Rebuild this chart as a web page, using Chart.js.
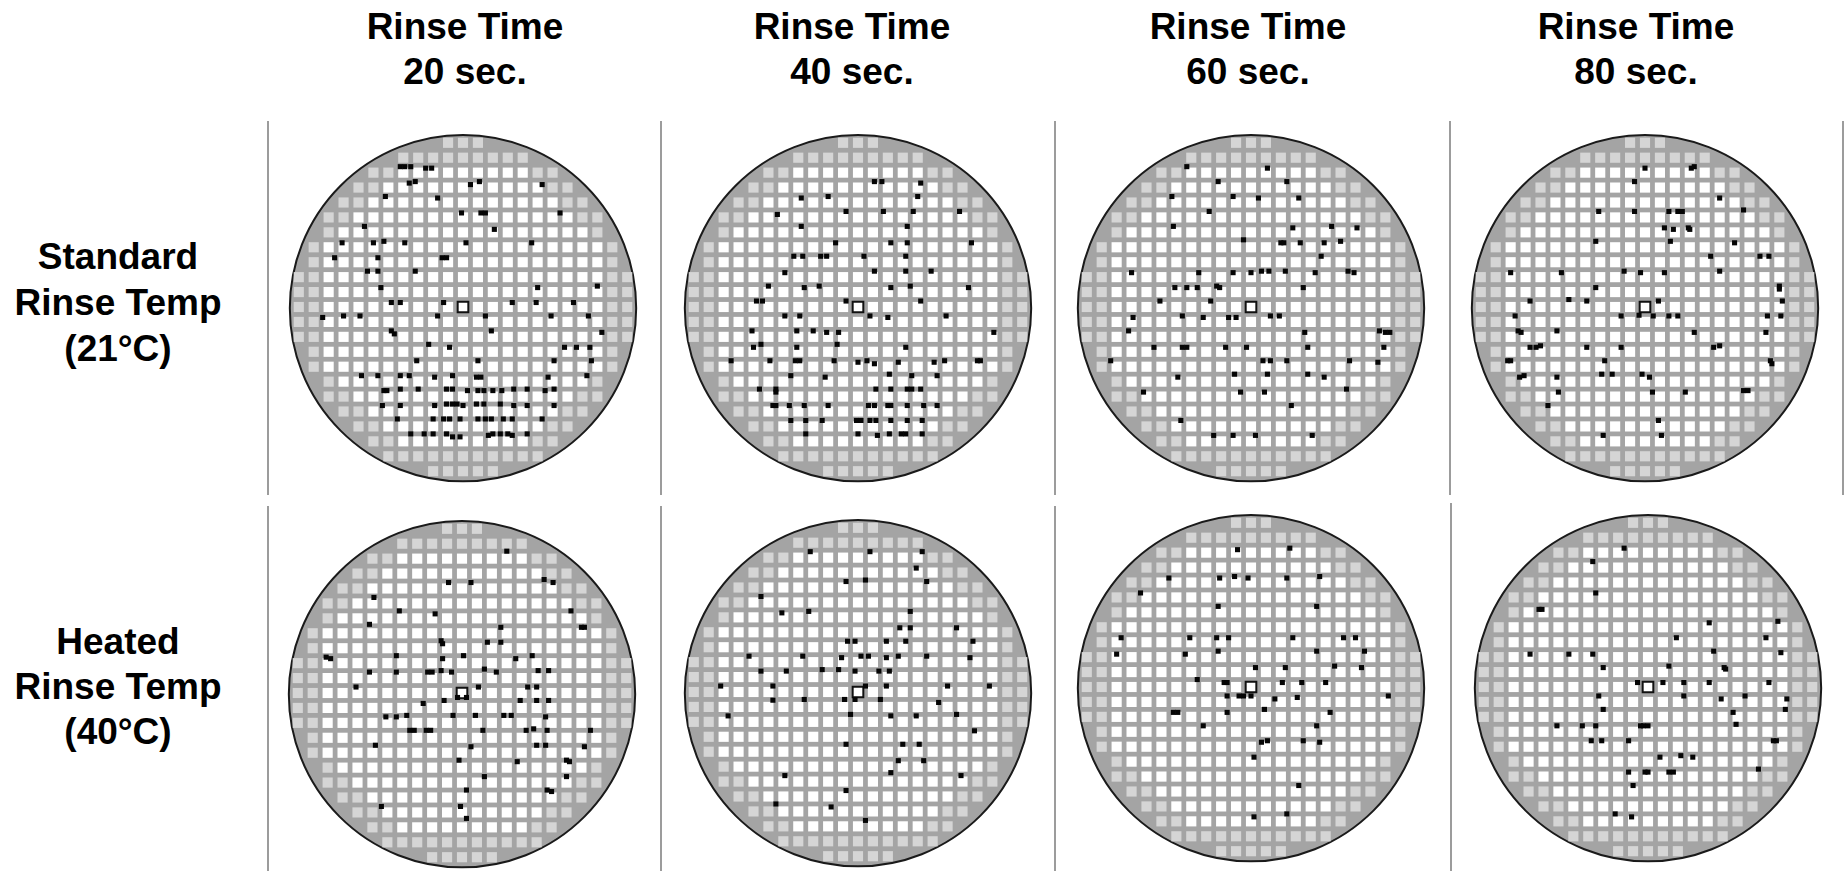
<!DOCTYPE html>
<html>
<head>
<meta charset="utf-8">
<script src="https://cdn.jsdelivr.net/npm/chart.js@4.4.1/dist/chart.umd.min.js"></script>
<style>
  html, body { margin: 0; padding: 0; background: #fff; width: 1845px; height: 871px; overflow: hidden; }
  .lbl { position: absolute; width: 320px; font-family: "Liberation Sans", Arial, sans-serif; font-weight: bold;
         font-size: 37px; color: #000; text-align: center; white-space: nowrap; }
  .sep { position: absolute; width: 2px; background: #9c9c9c; }
  .wafer { position: absolute; width: 380px; height: 380px; }
</style>
</head>
<body>
<script>
// column headers / row labels
var rinseTimes = ['20 sec.', '40 sec.', '60 sec.', '80 sec.'];
var rinseTemps = [['Standard', 'Rinse Temp', '(21°C)'], ['Heated', 'Rinse Temp', '(40°C)']];

// die map, one entry per die row (top to bottom):
// fullHalf = last column (+/-) holding a complete die, edgeHalf = last column holding an edge die
var dieRows  = [-11,-10,-9,-8,-7,-6,-5,-4,-3,-2,-1,0,1,2,3,4,5,6,7,8,9,10,11];
var fullHalf = [-1,-1,4,5,6,7,8,9,9,9,9,9,9,9,9,9,8,7,6,5,4,-1,-1];
var edgeHalf = [1,4,6,7,8,9,9,10,10,11,11,11,11,11,10,10,9,9,8,7,6,5,2];

// defect positions, in die pitches from the centre die (x to the right, y downwards)
var std20 = [[-4.2,-9.4],[-3.9,-9.4],[-3.5,-9.4],[-2.5,-9.3],[-2.1,-9.3],[-3.6,-8.3],[-3.2,-8.4],[-5.2,-7.4],[-1.7,-7.3],[0.5,-8.2],[1.1,-8.4],[5.3,-8.2],
  [-0.1,-6.3],[1.2,-6.3],[1.5,-6.3],[6.5,-6.3],[-6.6,-5.4],[2.1,-5.2],[-8.1,-4.3],[-6.0,-4.3],[-5.3,-4.4],[-3.9,-4.3],[0.2,-4.3],[4.6,-4.3],
  [-8.6,-3.3],[-5.7,-3.3],[-1.4,-3.3],[-1.1,-3.3],[-6.4,-2.4],[-5.7,-2.4],[-3.2,-2.4],[-5.5,-1.3],[5.0,-1.3],[9.0,-1.4],[-4.8,-0.3],[-4.2,-0.3],
  [-1.3,-0.3],[3.3,-0.3],[4.9,-0.3],[7.4,-0.3],[-9.4,0.7],[-8.0,0.6],[-6.9,0.6],[-1.7,0.6],[1.5,0.6],[5.9,0.6],[8.4,0.6],[-4.8,1.6],[-4.6,1.8],
  [1.9,1.6],[9.3,1.7],[-2.3,2.5],[-0.9,2.7],[6.8,2.7],[7.6,2.7],[8.5,2.7],[-3.1,3.6],[1.0,3.6],[6.1,3.6],[8.6,3.6],[-6.8,4.6],[-5.7,4.6],
  [-4.2,4.6],[-3.6,4.6],[-1.9,4.7],[-0.7,4.6],[0.9,4.7],[1.2,4.7],[5.7,4.7],[8.3,4.6],[-5.3,5.6],[-5.1,5.6],[-4.2,5.5],[-3.0,5.5],[-1.1,5.5],
  [-0.7,5.5],[0.3,5.6],[1.0,5.6],[1.4,5.6],[2.0,5.6],[2.6,5.6],[3.4,5.5],[4.3,5.5],[5.5,5.6],[6.1,5.5],[-5.4,6.6],[-4.2,6.6],[-1.9,6.6],
  [-1.1,6.5],[-0.7,6.5],[-0.4,6.5],[0.0,6.6],[0.9,6.5],[1.4,6.5],[2.5,6.5],[3.4,6.6],[4.3,6.6],[6.1,6.6],[-4.4,7.5],[-2.0,7.5],[-1.3,7.5],
  [-0.9,7.5],[-0.2,7.5],[1.0,7.5],[1.5,7.5],[1.9,7.5],[2.7,7.5],[3.3,7.5],[5.3,7.5],[-3.5,8.5],[-2.6,8.5],[-2.0,8.5],[-1.1,8.5],[-0.7,8.7],
  [-0.2,8.7],[1.7,8.6],[2.0,8.5],[2.5,8.5],[3.0,8.5],[3.3,8.6],[4.3,8.5]];
var std40 = [[1.1,-8.4],[1.6,-8.4],[4.2,-8.3],[4.0,-7.4],[-3.8,-7.3],[-2.0,-7.4],[-5.4,-6.2],[-0.8,-6.4],[1.7,-6.4],[3.7,-6.4],[6.8,-6.4],
  [-3.8,-5.4],[3.3,-5.4],[-1.5,-4.3],[2.2,-4.3],[3.3,-4.3],[7.6,-4.3],[-4.3,-3.4],[-3.7,-3.4],[-2.5,-3.4],[-2.1,-3.4],[0.4,-3.4],[3.2,-3.4],
  [-4.9,-2.3],[1.1,-2.4],[3.2,-2.4],[4.9,-2.4],[-6.0,-1.4],[-3.6,-1.3],[-2.6,-1.4],[2.2,-1.3],[3.5,-1.4],[7.4,-1.3],[-6.8,-0.4],[-6.4,-0.4],
  [-0.8,-0.4],[4.2,-0.4],[-4.9,0.6],[-3.9,0.6],[0.8,0.6],[2.0,0.7],[5.9,0.6],[-7.1,1.6],[-4.1,1.6],[-3.0,1.6],[-2.1,1.7],[-1.3,1.7],[9.1,1.7],
  [-7.0,2.7],[-6.5,2.5],[-4.1,2.7],[-1.4,2.5],[3.2,2.7],[-8.5,3.6],[-5.9,3.6],[-4.2,3.6],[-3.9,3.6],[-1.6,3.6],[0.0,3.7],[0.6,3.6],[1.1,3.8],
  [2.7,3.7],[5.1,3.7],[5.8,3.6],[8.0,3.6],[8.2,3.6],[-4.5,4.6],[-2.2,4.7],[2.1,4.5],[3.6,4.6],[5.3,4.6],[-6.6,5.5],[-5.5,5.5],[-5.5,5.7],
  [1.2,5.5],[2.2,5.5],[3.3,5.5],[3.6,5.5],[4.2,5.5],[-5.7,6.6],[-5.5,6.6],[-4.6,6.6],[-3.6,6.6],[-2.0,6.6],[0.7,6.6],[1.1,6.6],[2.0,6.6],
  [2.2,6.6],[3.3,6.6],[4.4,6.6],[5.3,6.6],[-4.5,7.6],[-3.5,7.6],[-2.4,7.6],[-0.1,7.6],[0.2,7.6],[0.8,7.6],[1.2,7.6],[2.2,7.6],[3.3,7.6],
  [4.3,7.6],[-3.5,8.5],[0.0,8.5],[1.3,8.6],[2.1,8.5],[2.9,8.5],[3.2,8.5],[4.3,8.5]];
var std60 = [[-4.3,-9.4],[1.1,-9.3],[-2.2,-8.4],[2.4,-8.4],[-5.3,-7.4],[-1.2,-7.4],[0.5,-7.3],[3.2,-7.3],[-2.8,-6.4],[-5.2,-5.4],[2.8,-5.3],
  [5.4,-5.4],[7.1,-5.3],[-0.5,-4.5],[2.0,-4.3],[2.2,-4.3],[3.3,-4.3],[4.9,-4.3],[6.0,-4.4],[4.7,-3.4],[-8.0,-2.3],[-3.5,-2.3],[-1.2,-2.3],
  [0.0,-2.3],[0.7,-2.4],[1.2,-2.4],[2.3,-2.4],[4.3,-2.3],[6.5,-2.4],[6.9,-2.3],[-5.1,-1.3],[-4.3,-1.3],[-3.6,-1.3],[-2.3,-1.4],[-2.1,-1.3],
  [3.5,-1.3],[-6.1,-0.4],[-2.7,-0.4],[-7.9,0.7],[-4.6,0.6],[-3.2,0.7],[-1.5,0.7],[-1.0,0.7],[1.3,0.6],[1.9,0.6],[-8.2,1.6],[3.6,1.7],
  [8.6,1.6],[9.0,1.7],[9.3,1.7],[-6.5,2.7],[-4.6,2.7],[-4.3,2.7],[-1.7,2.7],[-0.3,2.7],[3.8,2.7],[8.9,2.7],[-9.4,3.6],[0.8,3.6],[1.3,3.6],
  [2.4,3.6],[6.6,3.6],[8.5,3.7],[-4.9,4.7],[-1.1,4.5],[1.1,4.5],[3.8,4.5],[4.9,4.7],[-7.2,5.7],[-0.7,5.7],[0.9,5.7],[6.4,5.5],[2.7,6.6],
  [-4.7,7.6],[-2.5,8.6],[-1.2,8.6],[0.3,8.6],[4.1,8.6]];
var std80 = [[0.0,-9.3],[3.1,-9.3],[3.3,-9.4],[-0.7,-8.4],[5.0,-7.3],[-3.1,-6.4],[-0.7,-6.4],[1.6,-6.4],[2.2,-6.4],[2.5,-6.4],[6.6,-6.5],
  [1.3,-5.3],[1.9,-5.2],[2.9,-5.3],[3.0,-5.2],[1.7,-4.4],[-3.3,-4.4],[6.0,-4.3],[4.4,-3.4],[7.7,-3.4],[8.3,-3.4],[-9.0,-2.3],[-5.6,-2.3],
  [-1.4,-2.4],[-0.3,-2.3],[1.3,-2.3],[5.0,-2.4],[-3.3,-1.3],[9.0,-1.4],[9.0,-1.2],[-7.7,-0.4],[-5.1,-0.5],[-3.9,-0.4],[0.9,-0.4],[9.2,-0.4],
  [-0.4,0.55],[0.55,0.6],[-8.7,0.6],[-1.6,0.6],[1.6,0.6],[2.2,0.6],[8.2,0.6],[9.1,0.6],[-8.5,1.6],[-8.3,1.7],[-5.9,1.6],[3.3,1.7],[8.1,1.7],
  [-7.7,2.7],[-7.3,2.7],[-7.0,2.6],[-3.9,2.7],[-1.6,2.7],[4.6,2.7],[5.0,2.6],[-9.2,3.6],[-9.0,3.6],[-2.7,3.6],[8.4,3.6],[8.5,3.8],[-8.4,4.7],
  [-8.1,4.6],[-5.9,4.7],[-2.9,4.5],[-2.2,4.5],[-0.2,4.5],[0.3,4.7],[-5.8,5.7],[0.5,5.7],[2.7,5.7],[6.6,5.6],[6.9,5.6],[-6.5,6.6],[0.9,7.6],
  [1.1,8.6],[-2.8,8.6]];
var heat20 = [[3.0,-9.5],[5.5,-7.6],[6.1,-7.4],[-0.9,-7.4],[0.6,-7.4],[-5.9,-6.4],[-4.2,-5.5],[-1.8,-5.3],[7.3,-5.5],[-6.2,-4.6],[2.6,-4.4],
  [8.0,-4.4],[8.2,-4.4],[-1.4,-3.5],[-1.3,-3.3],[1.7,-3.4],[2.6,-3.4],[-9.1,-2.4],[-8.8,-2.3],[-4.4,-2.5],[0.1,-2.5],[-1.3,-2.3],[3.6,-2.3],
  [4.7,-2.5],[-6.2,-1.4],[-4.4,-1.4],[-2.3,-1.4],[-2.0,-1.4],[-1.4,-1.5],[-0.7,-1.4],[1.5,-1.6],[2.3,-1.4],[5.1,-1.5],[5.8,-1.5],[-7.1,-0.4],
  [1.1,-0.4],[4.4,-0.4],[5.0,-0.4],[-2.6,0.7],[-1.2,0.5],[3.9,0.5],[5.0,0.5],[5.8,0.5],[-5.1,1.6],[-4.4,1.6],[-3.7,1.5],[-0.6,1.5],[0.9,1.5],
  [2.8,1.5],[3.3,1.5],[5.6,1.6],[-3.5,2.5],[-3.2,2.5],[-2.4,2.5],[-2.1,2.5],[1.4,2.5],[4.3,2.5],[4.8,2.4],[5.7,2.5],[8.6,2.5],[-5.8,3.5],
  [0.6,3.6],[5.0,3.5],[5.6,3.5],[8.2,3.6],[-0.2,4.5],[3.7,4.6],[7.0,4.5],[7.2,4.6],[1.5,5.6],[7.0,5.6],[0.3,6.5],[5.7,6.5],[6.0,6.6],
  [-5.4,7.6],[-0.1,7.6],[0.3,8.4],[-0.3,0.3],[0.3,0.3]];
var heat40 = [[-3.2,-9.4],[0.8,-9.4],[4.3,-9.4],[3.9,-8.3],[-0.8,-7.4],[0.5,-7.5],[4.6,-7.4],[-6.5,-6.4],[-5.1,-5.3],[-3.3,-5.4],[3.5,-5.4],
  [2.8,-4.3],[3.5,-4.3],[6.6,-4.3],[-0.7,-3.4],[-0.2,-3.4],[1.9,-3.4],[3.2,-3.4],[7.7,-3.4],[-7.3,-2.4],[-3.7,-2.4],[-1.1,-2.3],[0.2,-2.4],
  [0.7,-2.4],[1.9,-2.3],[2.7,-2.4],[4.6,-2.4],[7.5,-2.3],[-6.5,-1.4],[-4.8,-1.4],[-2.4,-1.5],[-1.3,-1.5],[-0.2,-1.4],[1.4,-1.4],[2.1,-1.4],
  [-9.2,-0.4],[-5.7,-0.4],[0.5,-0.4],[1.9,-0.4],[6.0,-0.4],[8.8,-0.4],[-5.7,0.55],[-3.6,0.5],[-0.9,0.5],[-0.2,0.5],[1.5,0.5],[5.4,0.7],
  [-8.7,1.6],[-0.5,1.5],[2.2,1.6],[3.9,1.6],[6.6,1.5],[7.8,2.6],[-0.8,3.5],[3.0,3.5],[4.1,3.5],[2.7,4.6],[4.4,4.6],[2.2,5.4],[-4.9,5.6],
  [6.9,5.6],[-0.8,6.6],[-5.5,7.5],[-1.8,7.7],[0.5,8.6]];
var heat60 = [[-0.9,-9.2],[2.6,-9.3],[-5.5,-7.3],[-2.1,-7.3],[-1.1,-7.4],[-0.2,-7.3],[2.4,-7.3],[4.6,-7.4],[-7.4,-6.3],[-2.2,-5.4],[4.4,-5.4],
  [-8.7,-3.3],[-4.1,-3.3],[-2.3,-3.3],[-1.5,-3.3],[2.8,-3.3],[6.2,-3.3],[7.0,-3.3],[-9.0,-2.2],[-4.4,-2.2],[-2.2,-2.4],[4.4,-2.4],[7.6,-2.4],
  [0.3,-1.3],[2.3,-1.3],[5.6,-1.4],[7.4,-1.3],[-3.6,-0.5],[-1.8,-0.3],[-1.6,-0.3],[2.1,-0.3],[3.4,-0.3],[5.0,-0.3],[-1.6,0.6],[-0.8,0.6],
  [-0.5,0.6],[0.0,0.6],[1.6,0.8],[3.1,0.7],[9.2,0.6],[-5.2,1.7],[-4.9,1.7],[-1.6,1.7],[0.9,1.5],[5.3,1.7],[-3.2,2.6],[4.4,2.6],[0.7,3.7],
  [1.1,3.6],[3.5,3.6],[4.6,3.7],[0.2,4.7],[3.2,6.6],[0.2,8.7],[2.4,8.5]];
var heat80 = [[-1.6,-9.3],[-3.7,-8.4],[-3.5,-6.3],[-7.3,-5.2],[-7.1,-5.2],[4.1,-4.3],[8.7,-4.4],[1.9,-3.3],[7.9,-3.3],[-7.9,-2.2],[-5.3,-2.2],
  [-3.7,-2.2],[4.4,-2.4],[8.9,-2.3],[-3.0,-1.3],[1.4,-1.4],[5.1,-1.3],[5.2,-1.2],[-0.7,-0.3],[1.0,-0.3],[2.4,-0.3],[4.1,-0.3],[8.1,-0.3],
  [-3.3,0.6],[2.4,0.6],[4.9,0.8],[6.5,0.6],[9.3,0.8],[-3.0,1.5],[5.7,1.7],[9.2,1.5],[-6.1,2.6],[-4.4,2.6],[-3.5,2.6],[-0.5,2.6],[-0.3,2.6],
  [0.0,2.6],[5.9,2.5],[-3.8,3.6],[-3.1,3.6],[-1.3,3.6],[8.4,3.6],[8.6,3.6],[0.8,4.7],[2.2,4.6],[3.0,4.7],[7.4,5.5],[-1.3,5.7],[-0.2,5.7],
  [0.0,5.7],[1.4,5.7],[1.7,5.7],[-1.0,6.6],[-2.2,8.5],[-1.1,8.7]];

var waferDefects = [std20, std40, std60, std80, heat20, heat40, heat60, heat80];

// layout (page pixels)
var PITCH = 15.25;        // px per die
var SIZE = 380;           // canvas size
var WAFER_R = 11.6;       // wafer radius in dies
var WAFER_DY = 0.08;      // wafer centre offset below the centre die
var centres = [[462.7,307],[857.7,307.3],[1250.7,307.3],[1644.7,307.3],
               [462,692.7],[857.7,692],[1251.3,686.7],[1648,686.7]];
var headerX = [465, 852, 1248, 1636];
var labelTops = [234, 619];
var sepTop = [[268,121,374],[661,121,374],[1055,121,374],[1450,121,374],[1843,121,374],
              [268,506,365],[661,506,365],[1055,506,365],[1451,503,368]];

function addDiv(cls, css, html) {
  var d = document.createElement('div');
  d.className = cls;
  Object.assign(d.style, css);
  if (html) d.innerHTML = html;
  document.body.appendChild(d);
  return d;
}

rinseTimes.forEach(function(t, i) {
  addDiv('lbl', {left: (headerX[i] - 160) + 'px', top: '4px', lineHeight: '45px'}, 'Rinse Time<br>' + t);
});
rinseTemps.forEach(function(lines, i) {
  addDiv('lbl', {left: (118 - 160) + 'px', top: labelTops[i] + 'px', lineHeight: (i ? 45 : 46) + 'px'}, lines.join('<br>'));
});
sepTop.forEach(function(s) {
  addDiv('sep', {left: (s[0] - 1) + 'px', top: s[1] + 'px', height: s[2] + 'px'});
});

// full dies and edge dies
var fullDies = [], edgeDies = [];
dieRows.forEach(function(r, i) {
  for (var c = -edgeHalf[i]; c <= edgeHalf[i]; c++) {
    if (Math.abs(c) <= fullHalf[i]) fullDies.push({x: c, y: r});
    else edgeDies.push({x: c, y: r});
  }
});

function unitPx(ctx) {
  var s = ctx.chart.scales.x;
  return Math.abs(s.getPixelForValue(1) - s.getPixelForValue(0));
}
function dieRadius(ctx) { return unitPx(ctx) * 0.68 / Math.SQRT2; }

var waferDisk = {
  id: 'waferDisk',
  beforeDatasetsDraw: function(chart) {
    var xs = chart.scales.x, ys = chart.scales.y, c = chart.ctx;
    var cx = xs.getPixelForValue(0), cy = ys.getPixelForValue(WAFER_DY);
    var r = Math.abs(xs.getPixelForValue(WAFER_R) - cx);
    c.save();
    c.beginPath();
    c.arc(cx, cy, r, 0, Math.PI * 2);
    c.fillStyle = '#a4a4a4';
    c.fill();
    c.lineWidth = 2;
    c.strokeStyle = '#1a1a1a';
    c.stroke();
    c.restore();
  }
};

var HALF = SIZE / 2 / PITCH;

waferDefects.forEach(function(defects, i) {
  var box = addDiv('wafer', {left: (centres[i][0] - SIZE / 2) + 'px', top: (centres[i][1] - SIZE / 2) + 'px'});
  var cv = document.createElement('canvas');
  cv.width = SIZE; cv.height = SIZE;
  box.appendChild(cv);

  new Chart(cv.getContext('2d'), {
    type: 'scatter',
    data: {
      datasets: [
        {label: 'defects', data: defects.map(function(p) { return {x: p[0], y: p[1]}; }),
         pointStyle: 'rect', pointRadius: 3.6, pointBackgroundColor: '#050505', pointBorderWidth: 0, order: 0},
        {label: 'centre die', data: [{x: 0, y: 0}], pointStyle: 'rect',
         pointRadius: function(ctx) { return dieRadius(ctx) * 1.05; },
         pointBackgroundColor: '#ffffff', pointBorderColor: '#111', pointBorderWidth: 2, order: 1},
        {label: 'full dies', data: fullDies, pointStyle: 'rect', pointRadius: dieRadius,
         pointBackgroundColor: '#ffffff', pointBorderWidth: 0, order: 2},
        {label: 'edge dies', data: edgeDies, pointStyle: 'rect', pointRadius: dieRadius,
         pointBackgroundColor: '#d5d5d5', pointBorderWidth: 0, order: 3}
      ]
    },
    options: {
      responsive: false,
      animation: false,
      events: [],
      layout: {padding: 0},
      plugins: {legend: {display: false}, tooltip: {enabled: false}},
      scales: {
        x: {type: 'linear', min: -HALF, max: HALF, display: false},
        y: {type: 'linear', min: -HALF, max: HALF, reverse: true, display: false}
      }
    },
    plugins: [waferDisk]
  });
});
</script>
</body>
</html>
